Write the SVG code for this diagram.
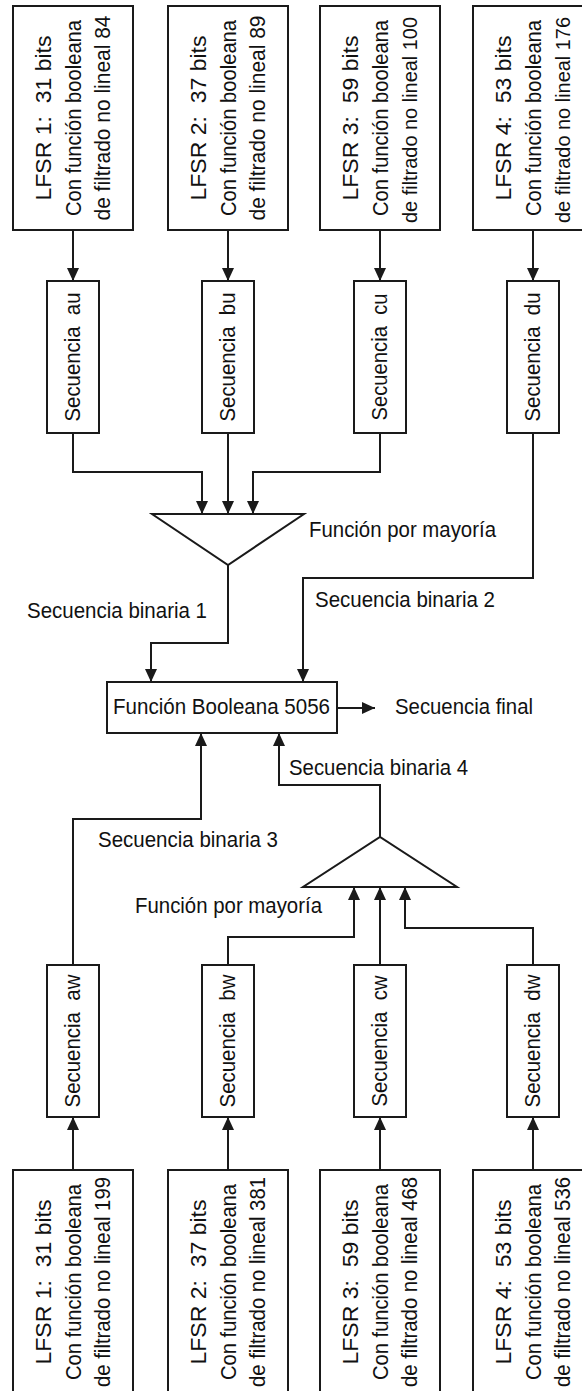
<svg xmlns="http://www.w3.org/2000/svg" width="582" height="1391" viewBox="0 0 582 1391">
<style>
.box{fill:#fff;stroke:#1a1a1a;stroke-width:2}
.t{font-family:"Liberation Sans",Arial,sans-serif;font-size:22px;fill:#111;white-space:pre}
.s{font-size:21px}
.m{text-anchor:middle}
.c{fill:none;stroke:#1a1a1a;stroke-width:2}
</style>
<defs>
<marker id="ah" markerUnits="userSpaceOnUse" markerWidth="13" markerHeight="12" refX="13" refY="6" orient="auto">
<path d="M0,0 L13,6 L0,12 z" fill="#1a1a1a"/>
</marker>
</defs>
<rect width="582" height="1391" fill="#fff"/>

<g id="connectors">
<path class="c" d="M73,230 V281" marker-end="url(#ah)"/>
<path class="c" d="M228,230 V281" marker-end="url(#ah)"/>
<path class="c" d="M380,230 V281" marker-end="url(#ah)"/>
<path class="c" d="M533,230 V281" marker-end="url(#ah)"/>
<path class="c" d="M73,433 V472 H202 V514" marker-end="url(#ah)"/>
<path class="c" d="M228,433 V514" marker-end="url(#ah)"/>
<path class="c" d="M380,433 V472 H253 V514" marker-end="url(#ah)"/>
<path class="c" d="M228,565 V643 H151 V682" marker-end="url(#ah)"/>
<path class="c" d="M533,433 V578 H303 V682" marker-end="url(#ah)"/>
<path class="c" d="M337,708 H375" marker-end="url(#ah)"/>
<path class="c" d="M73,965 V819 H201 V733" marker-end="url(#ah)"/>
<path class="c" d="M380,837 V785 H279 V733" marker-end="url(#ah)"/>
<path class="c" d="M228,965 V937 H354 V887" marker-end="url(#ah)"/>
<path class="c" d="M380,965 V887" marker-end="url(#ah)"/>
<path class="c" d="M533,965 V928 H405 V887" marker-end="url(#ah)"/>
<path class="c" d="M73,1170 V1117" marker-end="url(#ah)"/>
<path class="c" d="M228,1170 V1117" marker-end="url(#ah)"/>
<path class="c" d="M380,1170 V1117" marker-end="url(#ah)"/>
<path class="c" d="M533,1170 V1117" marker-end="url(#ah)"/>
</g>

<!-- top LFSR boxes -->
<g id="lfsr1u">
<rect class="box" x="13" y="6" width="120" height="224"/>
<text class="t m" transform="translate(51,118) rotate(-90)" textLength="165" lengthAdjust="spacingAndGlyphs" xml:space="preserve">LFSR 1:  31 bits</text>
<text class="t m" transform="translate(81,118) rotate(-90)" textLength="196" lengthAdjust="spacingAndGlyphs">Con función booleana</text>
<text class="t m" transform="translate(110,118) rotate(-90)" textLength="205" lengthAdjust="spacingAndGlyphs">de filtrado no lineal 84</text>
</g>
<g id="lfsr2u">
<rect class="box" x="168" y="6" width="120" height="224"/>
<text class="t m" transform="translate(206,118) rotate(-90)" textLength="165" lengthAdjust="spacingAndGlyphs" xml:space="preserve">LFSR 2:  37 bits</text>
<text class="t m" transform="translate(236,118) rotate(-90)" textLength="196" lengthAdjust="spacingAndGlyphs">Con función booleana</text>
<text class="t m" transform="translate(265,118) rotate(-90)" textLength="205" lengthAdjust="spacingAndGlyphs">de filtrado no lineal 89</text>
</g>
<g id="lfsr3u">
<rect class="box" x="320" y="6" width="120" height="224"/>
<text class="t m" transform="translate(358,118) rotate(-90)" textLength="165" lengthAdjust="spacingAndGlyphs" xml:space="preserve">LFSR 3:  59 bits</text>
<text class="t m" transform="translate(388,118) rotate(-90)" textLength="196" lengthAdjust="spacingAndGlyphs">Con función booleana</text>
<text class="t s m" transform="translate(417,120) rotate(-90)" textLength="206" lengthAdjust="spacingAndGlyphs">de filtrado no lineal 100</text>
</g>
<g id="lfsr4u">
<rect class="box" x="473" y="6" width="120" height="224"/>
<text class="t m" transform="translate(511,118) rotate(-90)" textLength="165" lengthAdjust="spacingAndGlyphs" xml:space="preserve">LFSR 4:  53 bits</text>
<text class="t m" transform="translate(541,118) rotate(-90)" textLength="196" lengthAdjust="spacingAndGlyphs">Con función booleana</text>
<text class="t s m" transform="translate(570,120) rotate(-90)" textLength="206" lengthAdjust="spacingAndGlyphs">de filtrado no lineal 176</text>
</g>

<!-- top sequence boxes -->
<g id="au">
<rect class="box" x="47" y="281" width="52" height="152"/>
<text class="t m" transform="translate(80,357) rotate(-90)" textLength="129" lengthAdjust="spacingAndGlyphs" xml:space="preserve">Secuencia  au</text>
</g>
<g id="bu">
<rect class="box" x="202" y="281" width="52" height="152"/>
<text class="t m" transform="translate(235,357) rotate(-90)" textLength="129" lengthAdjust="spacingAndGlyphs" xml:space="preserve">Secuencia  bu</text>
</g>
<g id="cu">
<rect class="box" x="354" y="281" width="52" height="152"/>
<text class="t m" transform="translate(387,357) rotate(-90)" textLength="127" lengthAdjust="spacingAndGlyphs" xml:space="preserve">Secuencia  cu</text>
</g>
<g id="du">
<rect class="box" x="507" y="281" width="52" height="152"/>
<text class="t m" transform="translate(540,357) rotate(-90)" textLength="129" lengthAdjust="spacingAndGlyphs" xml:space="preserve">Secuencia  du</text>
</g>

<g id="mayoria1">
<polygon class="box" points="152,514 304,514 228,565"/>
<text class="t" x="309" y="537" textLength="187" lengthAdjust="spacingAndGlyphs">Función por mayoría</text>
</g>

<g id="labels">
<text class="t" x="27" y="618" textLength="180" lengthAdjust="spacingAndGlyphs">Secuencia binaria 1</text>
<text class="t" x="315" y="607" textLength="180" lengthAdjust="spacingAndGlyphs">Secuencia binaria 2</text>
<text class="t" x="289" y="775" textLength="179" lengthAdjust="spacingAndGlyphs">Secuencia binaria 4</text>
<text class="t" x="98" y="847" textLength="180" lengthAdjust="spacingAndGlyphs">Secuencia binaria 3</text>
<text class="t" x="395" y="714" textLength="138" lengthAdjust="spacingAndGlyphs">Secuencia final</text>
</g>

<g id="booleana">
<rect class="box" x="107" y="682" width="230" height="51"/>
<text class="t" x="113" y="714" textLength="217" lengthAdjust="spacingAndGlyphs">Función Booleana 5056</text>
</g>

<g id="mayoria2">
<polygon class="box" points="303,887 457,887 380,837"/>
<text class="t" x="135" y="913" textLength="187" lengthAdjust="spacingAndGlyphs">Función por mayoría</text>
</g>

<!-- bottom sequence boxes -->
<g id="aw">
<rect class="box" x="47" y="965" width="52" height="152"/>
<text class="t m" transform="translate(80,1041) rotate(-90)" textLength="133" lengthAdjust="spacingAndGlyphs" xml:space="preserve">Secuencia  aw</text>
</g>
<g id="bw">
<rect class="box" x="202" y="965" width="52" height="152"/>
<text class="t m" transform="translate(235,1041) rotate(-90)" textLength="133" lengthAdjust="spacingAndGlyphs" xml:space="preserve">Secuencia  bw</text>
</g>
<g id="cw">
<rect class="box" x="354" y="965" width="52" height="152"/>
<text class="t m" transform="translate(387,1041) rotate(-90)" textLength="131" lengthAdjust="spacingAndGlyphs" xml:space="preserve">Secuencia  cw</text>
</g>
<g id="dw">
<rect class="box" x="507" y="965" width="52" height="152"/>
<text class="t m" transform="translate(540,1041) rotate(-90)" textLength="133" lengthAdjust="spacingAndGlyphs" xml:space="preserve">Secuencia  dw</text>
</g>

<!-- bottom LFSR boxes -->
<g id="lfsr1w">
<rect class="box" x="13" y="1170" width="120" height="224"/>
<text class="t m" transform="translate(51,1282) rotate(-90)" textLength="165" lengthAdjust="spacingAndGlyphs" xml:space="preserve">LFSR 1:  31 bits</text>
<text class="t m" transform="translate(81,1282) rotate(-90)" textLength="196" lengthAdjust="spacingAndGlyphs">Con función booleana</text>
<text class="t m" transform="translate(110,1282) rotate(-90)" textLength="210" lengthAdjust="spacingAndGlyphs">de filtrado no lineal 199</text>
</g>
<g id="lfsr2w">
<rect class="box" x="168" y="1170" width="120" height="224"/>
<text class="t m" transform="translate(206,1282) rotate(-90)" textLength="165" lengthAdjust="spacingAndGlyphs" xml:space="preserve">LFSR 2:  37 bits</text>
<text class="t m" transform="translate(236,1282) rotate(-90)" textLength="196" lengthAdjust="spacingAndGlyphs">Con función booleana</text>
<text class="t m" transform="translate(265,1282) rotate(-90)" textLength="210" lengthAdjust="spacingAndGlyphs">de filtrado no lineal 381</text>
</g>
<g id="lfsr3w">
<rect class="box" x="320" y="1170" width="120" height="224"/>
<text class="t m" transform="translate(358,1282) rotate(-90)" textLength="165" lengthAdjust="spacingAndGlyphs" xml:space="preserve">LFSR 3:  59 bits</text>
<text class="t m" transform="translate(388,1282) rotate(-90)" textLength="196" lengthAdjust="spacingAndGlyphs">Con función booleana</text>
<text class="t m" transform="translate(417,1282) rotate(-90)" textLength="210" lengthAdjust="spacingAndGlyphs">de filtrado no lineal 468</text>
</g>
<g id="lfsr4w">
<rect class="box" x="473" y="1170" width="120" height="224"/>
<text class="t m" transform="translate(511,1282) rotate(-90)" textLength="165" lengthAdjust="spacingAndGlyphs" xml:space="preserve">LFSR 4:  53 bits</text>
<text class="t m" transform="translate(541,1282) rotate(-90)" textLength="196" lengthAdjust="spacingAndGlyphs">Con función booleana</text>
<text class="t m" transform="translate(570,1282) rotate(-90)" textLength="210" lengthAdjust="spacingAndGlyphs">de filtrado no lineal 536</text>
</g>
</svg>
